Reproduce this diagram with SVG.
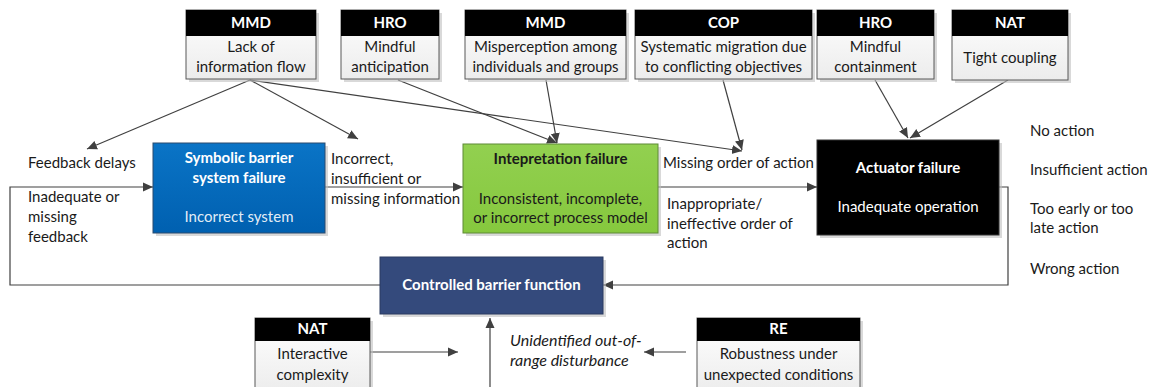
<svg xmlns="http://www.w3.org/2000/svg" width="1154" height="387" viewBox="0 0 1154 387">
<defs>
<marker id="ah" viewBox="0 0 10 10" refX="10" refY="5" markerWidth="10" markerHeight="10" markerUnits="userSpaceOnUse" orient="auto">
<path d="M0,0.5 L10,5 L0,9.5 z" fill="#404040"/>
</marker>
<linearGradient id="gBody" x1="0" y1="0" x2="0" y2="1"><stop offset="0" stop-color="#ffffff"/><stop offset="1" stop-color="#ececec"/></linearGradient>
<linearGradient id="gBlue" x1="0" y1="0" x2="0" y2="1"><stop offset="0" stop-color="#0a74c6"/><stop offset="1" stop-color="#0060b0"/></linearGradient>
<linearGradient id="gGreen" x1="0" y1="0" x2="0" y2="1"><stop offset="0" stop-color="#92d050"/><stop offset="1" stop-color="#86c83e"/></linearGradient>
</defs>
<style>
text{font-family:"Lato","Liberation Sans",sans-serif;font-size:15px;fill:#1a1a1a}
.c{text-anchor:middle}
.w{fill:#ffffff}
.b{font-weight:bold}
.i{font-style:italic;font-size:16px}
.hdr{fill:#000000}
.body{fill:url(#gBody);stroke:#595959;stroke-width:1}
.sh{fill:#bfbfbf;opacity:0.6}
.ln{stroke:#404040;stroke-width:1.2;fill:none}
.ar{marker-end:url(#ah)}
</style>
<rect width="1154" height="387" fill="#ffffff"/>

<g id="connectors">
<path class="ln ar" d="M250,80 L87,149"/>
<path class="ln ar" d="M250,80 L358,139"/>
<path class="ln ar" d="M250,80 L742,151"/>
<path class="ln ar" d="M398,80 L557,143"/>
<path class="ln ar" d="M546,80 L557,143"/>
<path class="ln ar" d="M723,80 L742,150"/>
<path class="ln ar" d="M875,80 L908,138"/>
<path class="ln ar" d="M1008,80 L910,138"/>
<path class="ln ar" d="M325,187 L463,187"/>
<path class="ln ar" d="M658,187 L817,187"/>
<path class="ln ar" d="M999,187 L1008,187 L1008,285 L603,285"/>
<path class="ln ar" d="M380,285 L10,285 L10,187 L153,187"/>
<path class="ln ar" d="M490,387 L490,318"/>
<path class="ln ar" d="M370,352 L458,352"/>
<path class="ln ar" d="M686,352 L644,352"/>
</g>

<g id="mmd1">
<rect class="sh" x="189" y="13" width="130" height="69"/>
<rect class="body" x="186" y="10" width="130" height="69"/>
<rect class="hdr" x="186" y="10" width="130" height="26"/>
<text class="c w b" x="251" y="28">MMD</text>
<text class="c" x="251" y="52">Lack of</text>
<text class="c" x="251" y="72">information flow</text>
</g>
<g id="hro1">
<rect class="sh" x="344" y="13" width="98" height="69"/>
<rect class="body" x="341" y="10" width="98" height="69"/>
<rect class="hdr" x="341" y="10" width="98" height="26"/>
<text class="c w b" x="390" y="28">HRO</text>
<text class="c" x="390" y="52">Mindful</text>
<text class="c" x="390" y="72">anticipation</text>
</g>
<g id="mmd2">
<rect class="sh" x="468" y="13" width="161" height="69"/>
<rect class="body" x="465" y="10" width="161" height="69"/>
<rect class="hdr" x="465" y="10" width="161" height="26"/>
<text class="c w b" x="545.5" y="28">MMD</text>
<text class="c" x="545.5" y="52">Misperception among</text>
<text class="c" x="545.5" y="72">individuals and groups</text>
</g>
<g id="cop">
<rect class="sh" x="638" y="13" width="177" height="69"/>
<rect class="body" x="635" y="10" width="177" height="69"/>
<rect class="hdr" x="635" y="10" width="177" height="26"/>
<text class="c w b" x="723.5" y="28">COP</text>
<text class="c" x="723.5" y="52">Systematic migration due</text>
<text class="c" x="723.5" y="72">to conflicting objectives</text>
</g>
<g id="hro2">
<rect class="sh" x="820" y="13" width="117" height="69"/>
<rect class="body" x="817" y="10" width="117" height="69"/>
<rect class="hdr" x="817" y="10" width="117" height="26"/>
<text class="c w b" x="875.5" y="28">HRO</text>
<text class="c" x="875.5" y="52">Mindful</text>
<text class="c" x="875.5" y="72">containment</text>
</g>
<g id="nat1">
<rect class="sh" x="955" y="13" width="116" height="70"/>
<rect class="body" x="952" y="10" width="116" height="70"/>
<rect class="hdr" x="952" y="10" width="116" height="26"/>
<text class="c w b" x="1010" y="28">NAT</text>
<text class="c" x="1010" y="63">Tight coupling</text>
</g>

<g id="symbolic">
<rect class="sh" x="156" y="146" width="172" height="90"/>
<rect x="153" y="143" width="172" height="90" fill="url(#gBlue)" stroke="#2a4b6e" stroke-width="1"/>
<text class="c w b" x="239" y="163">Symbolic barrier</text>
<text class="c w b" x="239" y="183">system failure</text>
<text class="c w" x="239" y="222" fill-opacity="0.9">Incorrect system</text>
</g>
<g id="interpretation">
<rect class="sh" x="466" y="147" width="195" height="89"/>
<rect x="463" y="144" width="195" height="89" fill="url(#gGreen)" stroke="#5e8a36" stroke-width="1"/>
<text class="c b" x="560.5" y="164">Intepretation failure</text>
<text class="c" x="560.5" y="204">Inconsistent, incomplete,</text>
<text class="c" x="560.5" y="223">or incorrect process model</text>
</g>
<g id="actuator">
<rect class="sh" x="820" y="143" width="182" height="95"/>
<rect x="817" y="140" width="182" height="95" fill="#000000" stroke="#333333" stroke-width="1"/>
<text class="c w b" x="908" y="173">Actuator failure</text>
<text class="c w" x="908" y="212">Inadequate operation</text>
</g>
<g id="controlled">
<rect class="sh" x="383" y="260" width="223" height="57"/>
<rect x="380" y="257" width="223" height="57" fill="#344a7c" stroke="#2a3a60" stroke-width="1"/>
<text class="c w b" x="491.5" y="290">Controlled barrier function</text>
</g>
<g id="nat2">
<rect class="sh" x="258" y="321" width="115" height="70"/>
<rect class="body" x="255" y="318" width="115" height="75"/>
<rect class="hdr" x="255" y="318" width="115" height="23"/>
<text class="c w b" x="312.5" y="334">NAT</text>
<text class="c" x="312.5" y="359">Interactive</text>
<text class="c" x="312.5" y="380">complexity</text>
</g>
<g id="re">
<rect class="sh" x="700" y="321" width="163" height="70"/>
<rect class="body" x="697" y="318" width="163" height="75"/>
<rect class="hdr" x="697" y="318" width="163" height="23"/>
<text class="c w b" x="778.5" y="334">RE</text>
<text class="c" x="778.5" y="359">Robustness under</text>
<text class="c" x="778.5" y="380">unexpected conditions</text>
</g>

<g id="labels">
<text x="28" y="168">Feedback delays</text>
<text x="28" y="202">Inadequate or</text>
<text x="28" y="222">missing</text>
<text x="28" y="242">feedback</text>
<text x="331" y="164">Incorrect,</text>
<text x="331" y="184">insufficient or</text>
<text x="331" y="204">missing information</text>
<text x="663" y="168">Missing order of action</text>
<text x="667" y="209">Inappropriate/</text>
<text x="667" y="229">ineffective order of</text>
<text x="667" y="248">action</text>
<text x="1030" y="136">No action</text>
<text x="1030" y="175">Insufficient action</text>
<text x="1030" y="214">Too early or too</text>
<text x="1030" y="233">late action</text>
<text x="1030" y="274">Wrong action</text>
<text class="i" x="510" y="346">Unidentified out-of-</text>
<text class="i" x="510" y="366">range disturbance</text>
</g>
</svg>
